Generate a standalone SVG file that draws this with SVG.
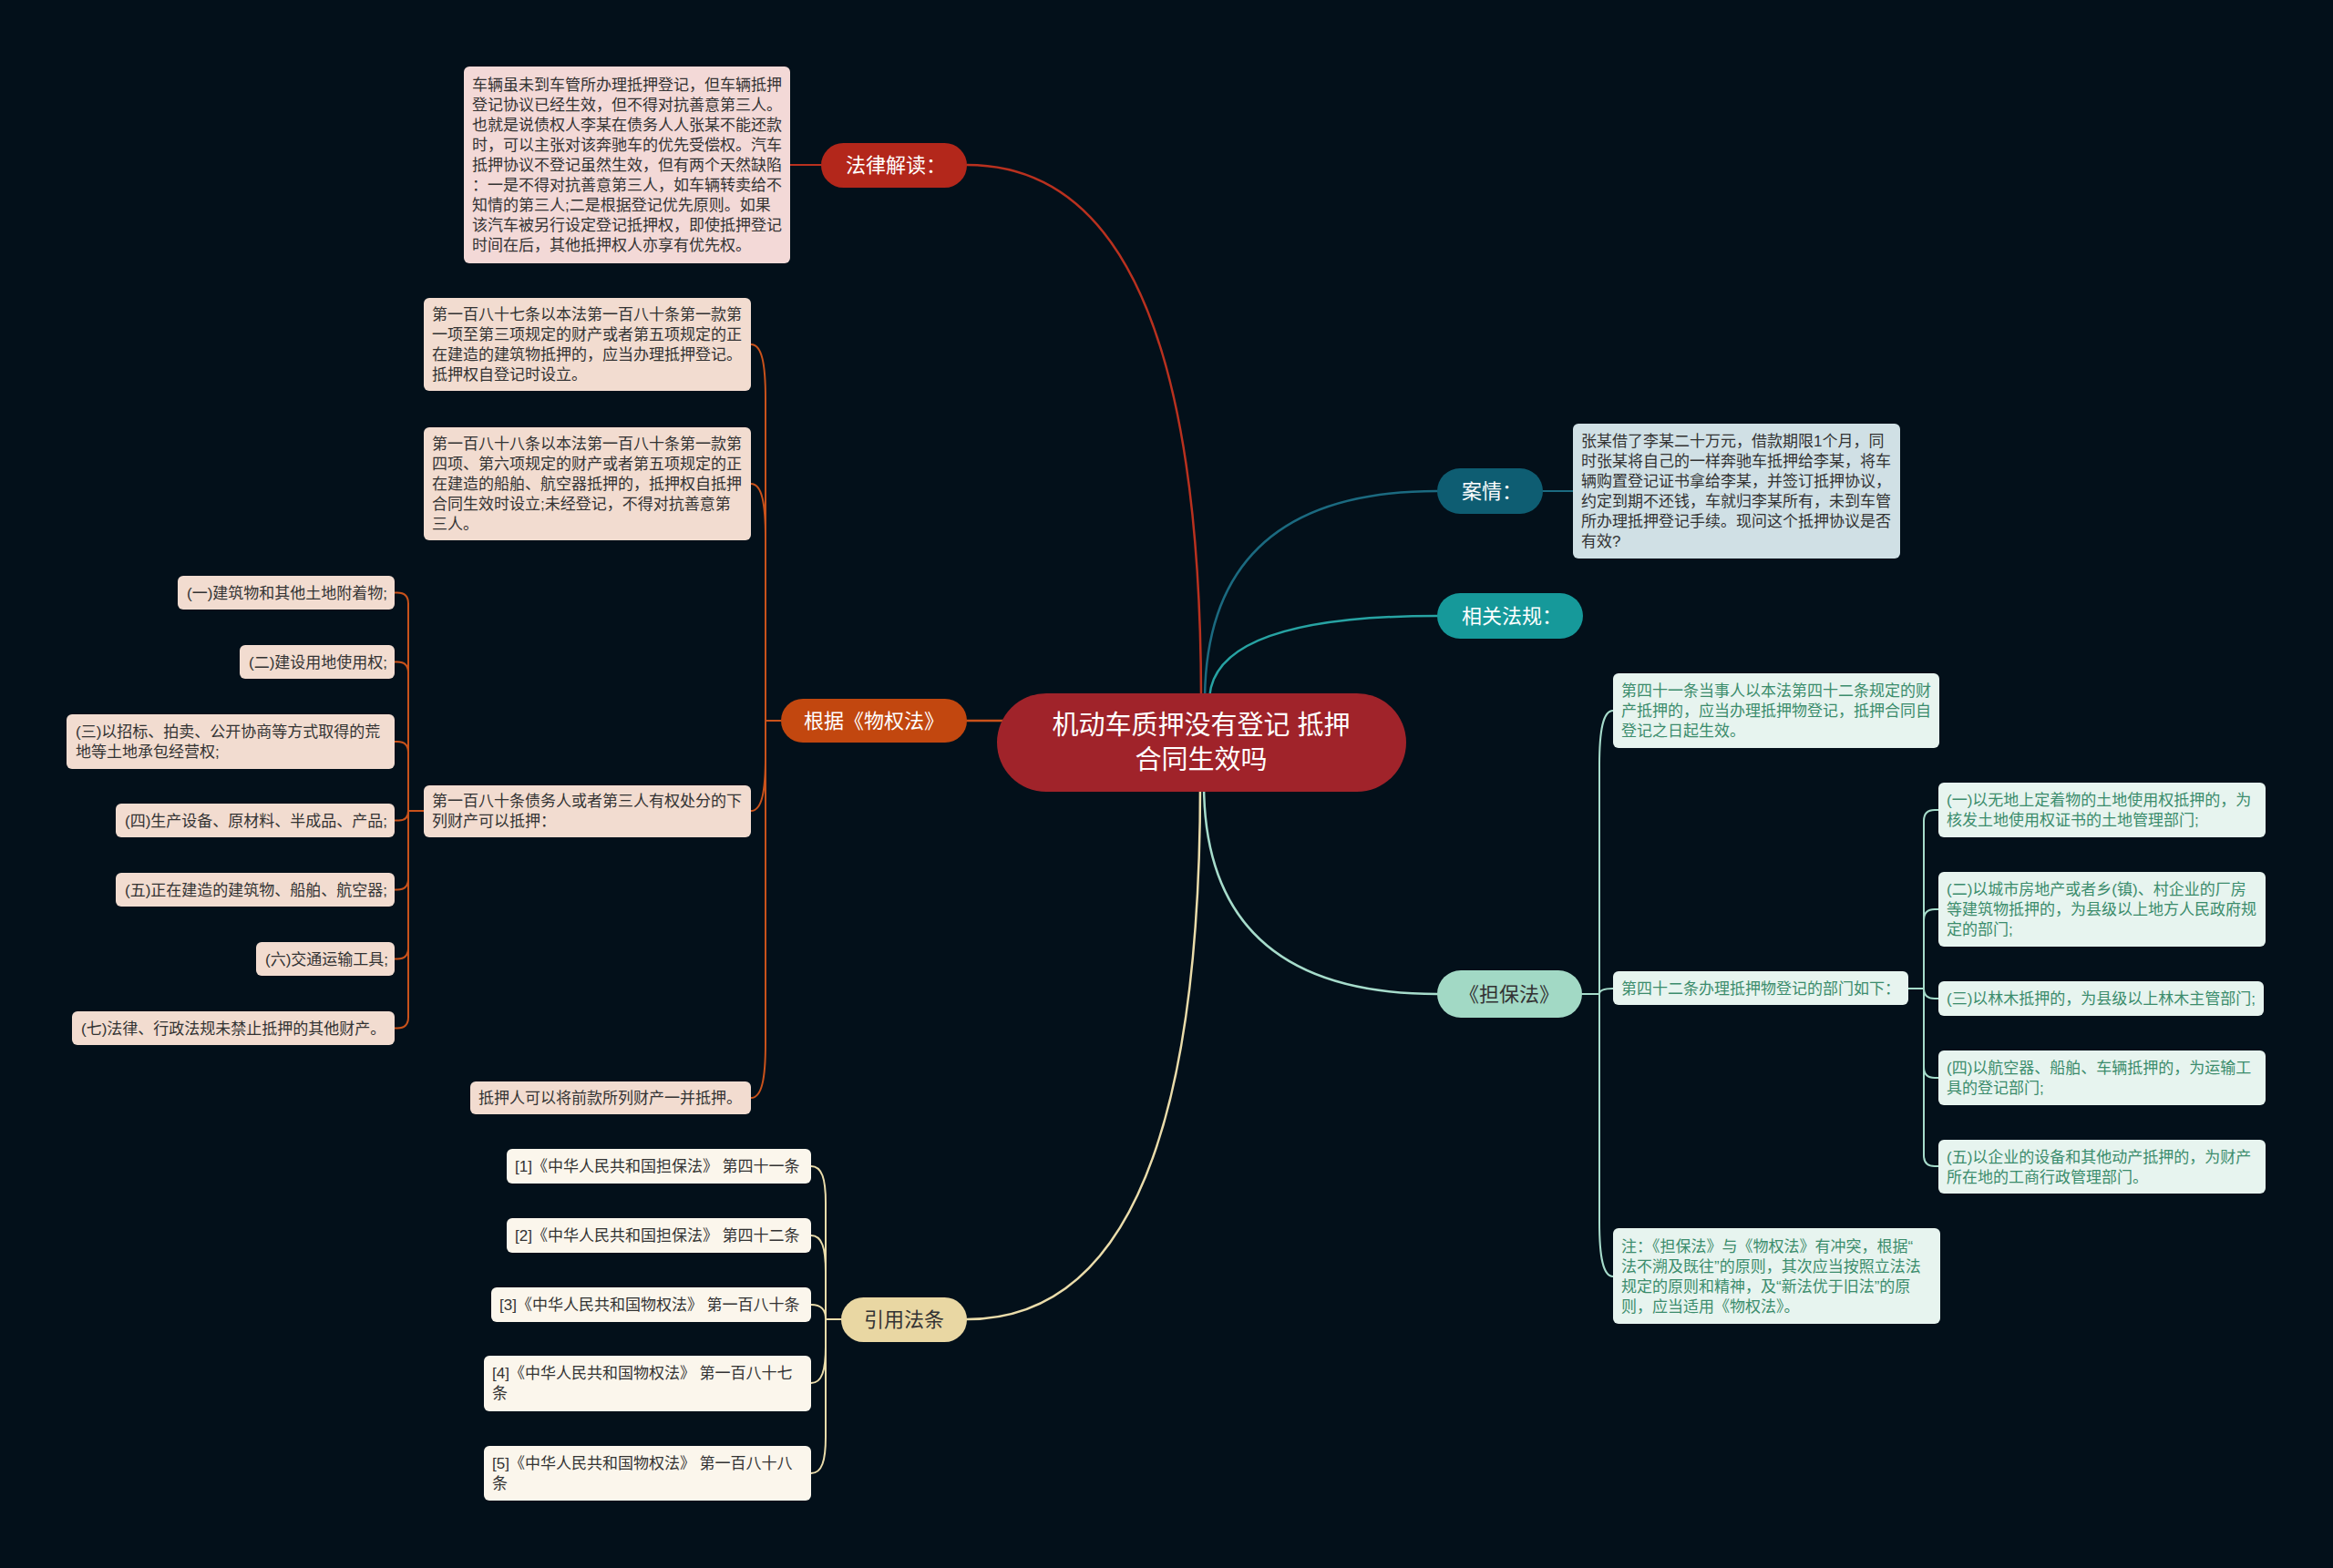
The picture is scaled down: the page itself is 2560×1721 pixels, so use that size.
<svg xmlns="http://www.w3.org/2000/svg" width="2560" height="1721" viewBox="0 0 2560 1721">
<style>
text{font-family:"Liberation Sans","Noto Sans CJK SC",sans-serif}
.t{font-size:17px;fill:#333333}
.tg{font-size:17px;fill:#3b8c6c}
.m{font-size:22px;text-anchor:middle}
.w{fill:#ffffff}
.d{fill:#333333}
.root{font-size:29px;fill:#ffffff;text-anchor:middle}
.ln{fill:none;stroke-width:2.5;stroke-linecap:round}
.sl{fill:none;stroke-width:2;stroke-linecap:round}
.red{stroke:#b9311f}
.org{stroke:#c9521b}
.dtl{stroke:#1b6a80}
.ltl{stroke:#27a3a3}
.mnt{stroke:#a6dccb}
.crm{stroke:#eadcaa}
.bpink{fill:#f3d9d7}
.bpeach{fill:#f2dcd0}
.bblue{fill:#d0e0e5}
.bgreen{fill:#e7f4ef}
.bcream{fill:#fbf6ec}
</style>
<rect x="0" y="0" width="2560" height="1721" fill="#03101a"/>

<g id="connectors">
  <path class="ln red" d="M1318 770 Q1318 181 1061 181"/>
  <path class="ln org" d="M1120 791 H1061"/>
  <path class="ln dtl" d="M1322 770 Q1322 539 1577 539"/>
  <path class="ln ltl" d="M1327 770 Q1327 676 1577 676"/>
  <path class="ln mnt" d="M1321 860 Q1321 1091 1577 1091"/>
  <path class="ln crm" d="M1317 860 Q1317 1448 1061 1448"/>

  <path class="sl red" d="M901 181 H867"/>
  <path class="sl dtl" d="M1693 539 H1726"/>

  <path class="sl org" d="M857 791 H840"/>
  <path class="sl org" d="M840 791 V438 C840 399 836 378 824 378"/>
  <path class="sl org" d="M840 791 V591 C840 552 836 531 824 531"/>
  <path class="sl org" d="M840 791 V830 C840 869 836 890 824 890"/>
  <path class="sl org" d="M840 791 V1145 C840 1184 836 1205 824 1205"/>

  <path class="sl org" d="M465 890 H448"/>
  <path class="sl org" d="M448 890 V662.5 Q448 650.5 436 650.5 H433"/>
  <path class="sl org" d="M448 890 V738.5 Q448 726.5 436 726.5 H433"/>
  <path class="sl org" d="M448 890 V826 Q448 814 436 814 H433"/>
  <path class="sl org" d="M448 890 Q448 900.5 437.5 900.5 H433"/>
  <path class="sl org" d="M448 890 V964.5 Q448 976.5 436 976.5 H433"/>
  <path class="sl org" d="M448 890 V1040.5 Q448 1052.5 436 1052.5 H433"/>
  <path class="sl org" d="M448 890 V1116.5 Q448 1128.5 436 1128.5 H433"/>

  <path class="sl mnt" d="M1736 1091 H1755"/>
  <path class="sl mnt" d="M1755 1091 V840 C1755 801 1759 780 1770 780"/>
  <path class="sl mnt" d="M1755 1091 C1755 1087 1760 1085 1770 1085"/>
  <path class="sl mnt" d="M1755 1091 V1341 C1755 1380 1759 1401 1770 1401"/>

  <path class="sl mnt" d="M2094 1085 H2111"/>
  <path class="sl mnt" d="M2111 1085 V901 Q2111 889 2123 889 H2127"/>
  <path class="sl mnt" d="M2111 1085 V1010 Q2111 998 2123 998 H2127"/>
  <path class="sl mnt" d="M2111 1085 Q2111 1096 2123 1096 H2127"/>
  <path class="sl mnt" d="M2111 1085 V1171 Q2111 1183 2123 1183 H2127"/>
  <path class="sl mnt" d="M2111 1085 V1268 Q2111 1280 2123 1280 H2127"/>

  <path class="sl crm" d="M923 1448 H906"/>
  <path class="sl crm" d="M906 1448 V1320 C906 1294 902 1280 890 1280"/>
  <path class="sl crm" d="M906 1448 V1396 C906 1370 902 1356 890 1356"/>
  <path class="sl crm" d="M906 1448 C906 1438 902 1432 890 1432"/>
  <path class="sl crm" d="M906 1448 V1478 C906 1504 902 1518 890 1518"/>
  <path class="sl crm" d="M906 1448 V1577 C906 1603 902 1617 890 1617"/>
</g>

<g id="root">
  <rect x="1094" y="761" width="449" height="108" rx="54" fill="#a0232a"/>
  <text class="root" x="1318" y="806">机动车质押没有登记 抵押</text>
  <text class="root" x="1318" y="844">合同生效吗</text>
</g>

<g id="falv">
  <rect x="901" y="157" width="160" height="49" rx="24.5" fill="#b3271b"/>
  <text class="m w" x="983" y="189">法律解读：</text>
</g>
<g id="falv-text">
  <rect class="bpink" x="509" y="73" width="358" height="216" rx="6"/>
  <text class="t" x="518">
    <tspan x="518" y="99">车辆虽未到车管所办理抵押登记，但车辆抵押</tspan>
    <tspan x="518" y="121">登记协议已经生效，但不得对抗善意第三人。</tspan>
    <tspan x="518" y="143">也就是说债权人李某在债务人人张某不能还款</tspan>
    <tspan x="518" y="165">时，可以主张对该奔驰车的优先受偿权。汽车</tspan>
    <tspan x="518" y="187">抵押协议不登记虽然生效，但有两个天然缺陷</tspan>
    <tspan x="518" y="209">：一是不得对抗善意第三人，如车辆转卖给不</tspan>
    <tspan x="518" y="231">知情的第三人;二是根据登记优先原则。如果</tspan>
    <tspan x="518" y="253">该汽车被另行设定登记抵押权，即使抵押登记</tspan>
    <tspan x="518" y="275">时间在后，其他抵押权人亦享有优先权。</tspan>
  </text>
</g>

<g id="wuquan">
  <rect x="857" y="767" width="204" height="48" rx="24" fill="#c2470f"/>
  <text class="m w" x="959" y="799">根据《物权法》</text>
</g>
<g id="a187">
  <rect class="bpeach" x="465" y="327" width="359" height="102" rx="6"/>
  <text class="t">
    <tspan x="474" y="351">第一百八十七条以本法第一百八十条第一款第</tspan>
    <tspan x="474" y="373">一项至第三项规定的财产或者第五项规定的正</tspan>
    <tspan x="474" y="395">在建造的建筑物抵押的，应当办理抵押登记。</tspan>
    <tspan x="474" y="417">抵押权自登记时设立。</tspan>
  </text>
</g>
<g id="a188">
  <rect class="bpeach" x="465" y="469" width="359" height="124" rx="6"/>
  <text class="t">
    <tspan x="474" y="493">第一百八十八条以本法第一百八十条第一款第</tspan>
    <tspan x="474" y="515">四项、第六项规定的财产或者第五项规定的正</tspan>
    <tspan x="474" y="537">在建造的船舶、航空器抵押的，抵押权自抵押</tspan>
    <tspan x="474" y="559">合同生效时设立;未经登记，不得对抗善意第</tspan>
    <tspan x="474" y="581">三人。</tspan>
  </text>
</g>
<g id="a180">
  <rect class="bpeach" x="465" y="862" width="359" height="57" rx="6"/>
  <text class="t">
    <tspan x="474" y="885">第一百八十条债务人或者第三人有权处分的下</tspan>
    <tspan x="474" y="907">列财产可以抵押：</tspan>
  </text>
</g>
<g id="a-dy">
  <rect class="bpeach" x="516" y="1187" width="308" height="36" rx="6"/>
  <text class="t" x="525" y="1211">抵押人可以将前款所列财产一并抵押。</text>
</g>
<g id="i1">
  <rect class="bpeach" x="195" y="632" width="238" height="37" rx="6"/>
  <text class="t" x="205" y="656.5">(一)建筑物和其他土地附着物;</text>
</g>
<g id="i2">
  <rect class="bpeach" x="263" y="708" width="170" height="37" rx="6"/>
  <text class="t" x="273" y="732.5">(二)建设用地使用权;</text>
</g>
<g id="i3">
  <rect class="bpeach" x="73" y="784" width="360" height="60" rx="6"/>
  <text class="t">
    <tspan x="83" y="809">(三)以招标、拍卖、公开协商等方式取得的荒</tspan>
    <tspan x="83" y="831">地等土地承包经营权;</tspan>
  </text>
</g>
<g id="i4">
  <rect class="bpeach" x="127" y="882" width="306" height="37" rx="6"/>
  <text class="t" x="137" y="906.5">(四)生产设备、原材料、半成品、产品;</text>
</g>
<g id="i5">
  <rect class="bpeach" x="127" y="958" width="306" height="37" rx="6"/>
  <text class="t" x="137" y="982.5">(五)正在建造的建筑物、船舶、航空器;</text>
</g>
<g id="i6">
  <rect class="bpeach" x="281" y="1034" width="152" height="37" rx="6"/>
  <text class="t" x="291" y="1058.5">(六)交通运输工具;</text>
</g>
<g id="i7">
  <rect class="bpeach" x="79" y="1110" width="354" height="37" rx="6"/>
  <text class="t" x="89" y="1134.5">(七)法律、行政法规未禁止抵押的其他财产。</text>
</g>

<g id="yinyong">
  <rect x="923" y="1424" width="138" height="49" rx="24.5" fill="#e9d7a3"/>
  <text class="m d" x="992" y="1456">引用法条</text>
</g>
<g id="r1">
  <rect class="bcream" x="556" y="1261" width="334" height="38" rx="6"/>
  <text class="t" x="565" y="1286">[1]《中华人民共和国担保法》 第四十一条</text>
</g>
<g id="r2">
  <rect class="bcream" x="556" y="1337" width="334" height="38" rx="6"/>
  <text class="t" x="565" y="1362">[2]《中华人民共和国担保法》 第四十二条</text>
</g>
<g id="r3">
  <rect class="bcream" x="539" y="1413" width="351" height="38" rx="6"/>
  <text class="t" x="548" y="1438">[3]《中华人民共和国物权法》 第一百八十条</text>
</g>
<g id="r4">
  <rect class="bcream" x="531" y="1488" width="359" height="61" rx="6"/>
  <text class="t">
    <tspan x="540" y="1513">[4]《中华人民共和国物权法》 第一百八十七</tspan>
    <tspan x="540" y="1535">条</tspan>
  </text>
</g>
<g id="r5">
  <rect class="bcream" x="531" y="1587" width="359" height="60" rx="6"/>
  <text class="t">
    <tspan x="540" y="1612">[5]《中华人民共和国物权法》 第一百八十八</tspan>
    <tspan x="540" y="1634">条</tspan>
  </text>
</g>

<g id="anqing">
  <rect x="1577" y="514" width="116" height="50" rx="25" fill="#0e5d72"/>
  <text class="m w" x="1637" y="547">案情：</text>
</g>
<g id="anqing-text">
  <rect class="bblue" x="1726" y="465" width="359" height="148" rx="6"/>
  <text class="t">
    <tspan x="1735" y="490">张某借了李某二十万元，借款期限1个月，同</tspan>
    <tspan x="1735" y="512">时张某将自己的一样奔驰车抵押给李某，将车</tspan>
    <tspan x="1735" y="534">辆购置登记证书拿给李某，并签订抵押协议，</tspan>
    <tspan x="1735" y="556">约定到期不还钱，车就归李某所有，未到车管</tspan>
    <tspan x="1735" y="578">所办理抵押登记手续。现问这个抵押协议是否</tspan>
    <tspan x="1735" y="600">有效?</tspan>
  </text>
</g>

<g id="fagui">
  <rect x="1577" y="651" width="160" height="50" rx="25" fill="#16999a"/>
  <text class="m w" x="1659" y="684">相关法规：</text>
</g>

<g id="danbao">
  <rect x="1577" y="1065" width="159" height="52" rx="26" fill="#a2d9c5"/>
  <text class="m d" x="1656" y="1099">《担保法》</text>
</g>
<g id="d41">
  <rect class="bgreen" x="1770" y="739" width="358" height="82" rx="6"/>
  <text class="tg">
    <tspan x="1779" y="764">第四十一条当事人以本法第四十二条规定的财</tspan>
    <tspan x="1779" y="786">产抵押的，应当办理抵押物登记，抵押合同自</tspan>
    <tspan x="1779" y="808">登记之日起生效。</tspan>
  </text>
</g>
<g id="d42">
  <rect class="bgreen" x="1770" y="1066" width="324" height="37" rx="6"/>
  <text class="tg" x="1779" y="1091">第四十二条办理抵押物登记的部门如下：</text>
</g>
<g id="dnote">
  <rect class="bgreen" x="1770" y="1348" width="359" height="105" rx="6"/>
  <text class="tg">
    <tspan x="1779" y="1374">注：《担保法》与《物权法》有冲突，根据“</tspan>
    <tspan x="1779" y="1396">法不溯及既往”的原则，其次应当按照立法法</tspan>
    <tspan x="1779" y="1418">规定的原则和精神，及“新法优于旧法”的原</tspan>
    <tspan x="1779" y="1440">则，应当适用《物权法》。</tspan>
  </text>
</g>
<g id="s1">
  <rect class="bgreen" x="2127" y="859" width="359" height="60" rx="6"/>
  <text class="tg">
    <tspan x="2136" y="884">(一)以无地上定着物的土地使用权抵押的，为</tspan>
    <tspan x="2136" y="906">核发土地使用权证书的土地管理部门;</tspan>
  </text>
</g>
<g id="s2">
  <rect class="bgreen" x="2127" y="957" width="359" height="82" rx="6"/>
  <text class="tg">
    <tspan x="2136" y="982">(二)以城市房地产或者乡(镇)、村企业的厂房</tspan>
    <tspan x="2136" y="1004">等建筑物抵押的，为县级以上地方人民政府规</tspan>
    <tspan x="2136" y="1026">定的部门;</tspan>
  </text>
</g>
<g id="s3">
  <rect class="bgreen" x="2127" y="1077" width="357" height="38" rx="6"/>
  <text class="tg" x="2136" y="1102">(三)以林木抵押的，为县级以上林木主管部门;</text>
</g>
<g id="s4">
  <rect class="bgreen" x="2127" y="1153" width="359" height="60" rx="6"/>
  <text class="tg">
    <tspan x="2136" y="1178">(四)以航空器、船舶、车辆抵押的，为运输工</tspan>
    <tspan x="2136" y="1200">具的登记部门;</tspan>
  </text>
</g>
<g id="s5">
  <rect class="bgreen" x="2127" y="1251" width="359" height="59" rx="6"/>
  <text class="tg">
    <tspan x="2136" y="1276">(五)以企业的设备和其他动产抵押的，为财产</tspan>
    <tspan x="2136" y="1298">所在地的工商行政管理部门。</tspan>
  </text>
</g>
</svg>
